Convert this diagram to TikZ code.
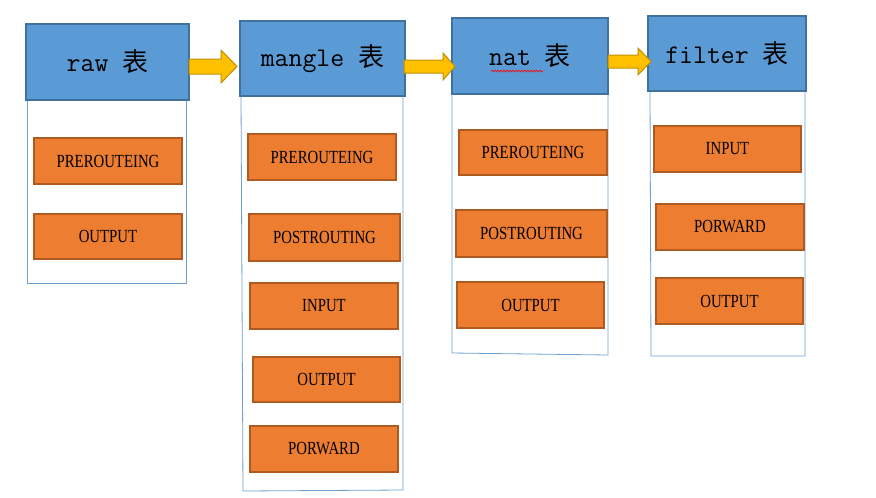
\documentclass[tikz,border=0pt]{standalone}
\usepackage{fontspec}
\newfontfamily\hdrfont{Latin Modern Mono}
\newfontfamily\cjkfont{Noto Sans CJK SC}
\newfontfamily\boxfont[FakeStretch=0.8]{Liberation Serif}
\usetikzlibrary{decorations.pathmorphing}
\definecolor{hdrfill}{HTML}{5B9BD5}
\definecolor{hdrline}{HTML}{41719C}
\definecolor{orfill}{HTML}{ED7D31}
\definecolor{orline}{HTML}{AE5A21}
\definecolor{arfill}{HTML}{FFC000}
\definecolor{arline}{HTML}{BF9000}
\definecolor{contline}{HTML}{6FA0D2}
\tikzset{
  hdr/.style={draw=hdrline,line width=1.5pt,fill=hdrfill},
  hdrtext/.style={font=\hdrfont\fontsize{27}{27}\selectfont},
  chainbox/.style={draw=orline,line width=1.3pt,fill=orfill},
  chaintext/.style={font=\boxfont\fontsize{18.5}{18.5}\selectfont},
  cont/.style={draw=contline,line width=0.8pt},
  flowarrow/.style={draw=arline,line width=1pt,fill=arfill},
}
\newcommand{\biao}{{\cjkfont\fontsize{26}{26}\selectfont 表}}
\begin{document}
\begin{tikzpicture}[x=1pt,y=-1pt]
\useasboundingbox (0,0) rectangle (876,498);
% containers
\draw[cont] (27,100) -- (27,283) -- (186,283) -- (186,100);
\draw[cont] (241,96) -- (243,491) -- (403,490) -- (403,96);
\draw[cont] (452,94) -- (452,353) -- (608,355) -- (608,94);
\draw[cont] (650,91) -- (651,356) -- (805,356) -- (805,91);
% headers
\draw[hdr] (26,24) rectangle (189,100);
\node[hdrtext] (rawh) at (107.5,62) {raw \biao};
\draw[hdr] (240,21) rectangle (405,96);
\node[hdrtext] (mangleh) at (322.5,58.5) {mangle \biao};
\draw[hdr] (452,18) rectangle (608,94);
\node[hdrtext] (nath) at (530,56) {nat \biao};
\draw[red,line width=0.6pt,decorate,decoration={snake,amplitude=0.9pt,segment length=3pt}] (491,71) -- (543,71);
\draw[hdr] (648,16) rectangle (806,91);
\node[hdrtext] (filterh) at (727,53.5) {filter \biao};
% arrows
\draw[flowarrow] (189,59) -- (221,59) -- (221,50) -- (237,66.5) -- (221,83) -- (221,74) -- (189,74) -- cycle;
\draw[flowarrow] (404,60) -- (443,60) -- (443,53) -- (455,66.5) -- (443,80) -- (443,73) -- (404,73) -- cycle;
\draw[flowarrow] (608,55) -- (638,55) -- (638,48) -- (651,61.5) -- (638,75) -- (638,68) -- (608,68) -- cycle;
% raw chains
\draw[chainbox] (34,138) rectangle (182,184); \node[chaintext] (r1) at (108,161) {PREROUTEING};
\draw[chainbox] (34,214) rectangle (182,259); \node[chaintext] (r2) at (108,236.5) {OUTPUT};
% mangle chains
\draw[chainbox] (248,134) rectangle (396,180); \node[chaintext] (m1) at (322,157) {PREROUTEING};
\draw[chainbox] (249,214) rectangle (400,261); \node[chaintext] (m2) at (324.5,237.5) {POSTROUTING};
\draw[chainbox] (250,283) rectangle (398,329); \node[chaintext] (m3) at (324,306) {INPUT};
\draw[chainbox] (253,357) rectangle (400,402); \node[chaintext] (m4) at (326.5,379.5) {OUTPUT};
\draw[chainbox] (250,426) rectangle (398,472); \node[chaintext] (m5) at (324,449) {PORWARD};
% nat chains
\draw[chainbox] (459,130) rectangle (607,175); \node[chaintext] (n1) at (533,152.5) {PREROUTEING};
\draw[chainbox] (456,210) rectangle (607,257); \node[chaintext] (n2) at (531.5,233.5) {POSTROUTING};
\draw[chainbox] (457,282) rectangle (604,328); \node[chaintext] (n3) at (530.5,305) {OUTPUT};
% filter chains
\draw[chainbox] (654,126) rectangle (801,172); \node[chaintext] (f1) at (727.5,149) {INPUT};
\draw[chainbox] (656,204) rectangle (804,250); \node[chaintext] (f2) at (730,227) {PORWARD};
\draw[chainbox] (656,278) rectangle (803,324); \node[chaintext] (f3) at (729.5,301) {OUTPUT};
\end{tikzpicture}
\end{document}
